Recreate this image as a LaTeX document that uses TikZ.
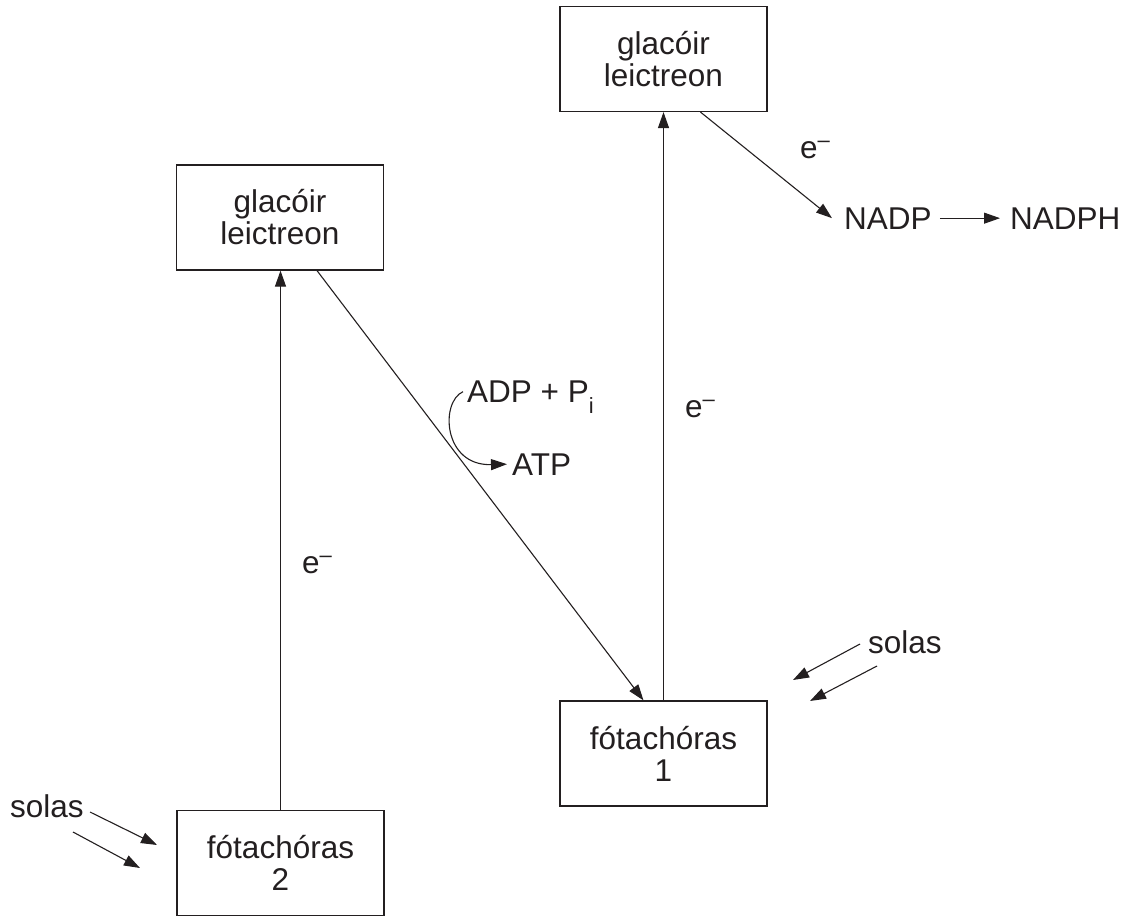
\documentclass[tikz,border=0pt]{standalone}
\usepackage{fontspec}
\setmainfont{Liberation Sans}
\usetikzlibrary{arrows.meta}
\definecolor{ink}{HTML}{231F20}
\newcommand{\elec}{e\raisebox{11pt}{\fontsize{22}{22}\selectfont –}}
\begin{document}
\begin{tikzpicture}[x=1pt,y=-1pt,
  every node/.style={font=\fontsize{31.5}{32}\selectfont, text=ink},
  box/.style={draw=ink, line width=1.2pt, minimum width=207pt, minimum height=105pt, inner sep=0pt, align=center},
  lbl/.style={anchor=base west, inner sep=0pt},
  arr/.style={draw=ink, line width=1.1pt, -{Triangle[length=16pt,width=11pt]}}
]
\useasboundingbox (0,0) rectangle (1125,916);
% boxes
\node[box] (A) at (663.5,59) {glacóir\\leictreon};
\node[box] (B) at (280,217.5) {glacóir\\leictreon};
\node[box] (C) at (663.5,753.5) {fótachóras\\1};
\node[box] (D) at (280.5,863) {fótachóras\\2};
% labels
\node[lbl] (eA) at (800,158) {\elec};
\node[lbl] (eC) at (685,417) {\elec};
\node[lbl] (eD) at (302,573) {\elec};
\node[lbl] (nadp) at (844,229) {NADP};
\node[lbl] (nadph) at (1010,229) {NADPH};
\node[lbl] (adp) at (467,402) {ADP + P\raisebox{-11pt}{\fontsize{22}{22}\selectfont i}};
\node[lbl] (atp) at (512,475) {ATP};
\node[lbl] (solL) at (10,817) {solas};
\node[lbl] (solR) at (868,653) {solas};
% light arrow end points
\coordinate (l1) at (90,812);
\coordinate (l2) at (73,832);
\coordinate (r1) at (860,644);
\coordinate (r2) at (877,666);
\coordinate (l1e) at (157,845);
\coordinate (l2e) at (140,868);
\coordinate (r1e) at (793,680);
\coordinate (r2e) at (810,701);
% connectors
\draw[arr] (D.north) -- (D.north |- B.south);
\draw[arr] ([xshift=37pt]B.south) -- ([xshift=-20pt]C.north);
\draw[arr] (C.north) -- (C.north |- A.south);
\draw[arr] ([xshift=37pt]A.south) -- ([xshift=-12pt]nadp.west);
\draw[arr, shorten <=8pt, shorten >=10pt] (nadp.east) -- (nadph.west);
\draw[arr] ([xshift=-4pt,yshift=5pt]adp.west) .. controls (440,402) and (443,466) .. ([xshift=-5pt]atp.west);
\draw[arr] (l1) -- (l1e);
\draw[arr] (l2) -- (l2e);
\draw[arr] (r1) -- (r1e);
\draw[arr] (r2) -- (r2e);
\end{tikzpicture}
\end{document}
